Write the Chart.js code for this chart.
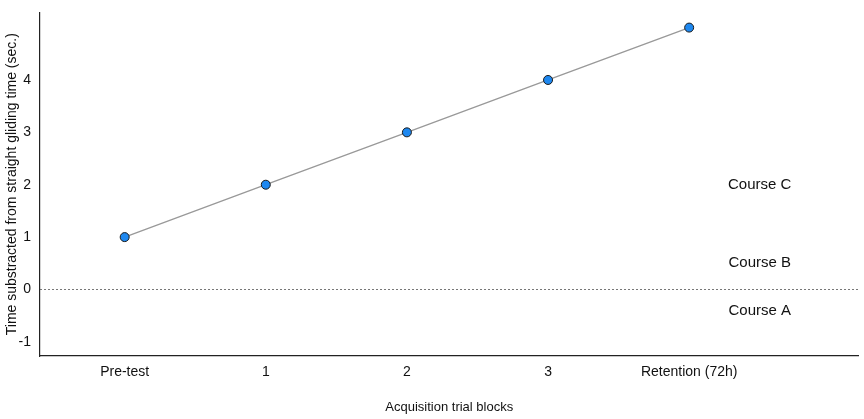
<!DOCTYPE html>
<html><head><script src="https://cdn.jsdelivr.net/npm/chart.js@4"></script>
<style>body{margin:0;background:#fff}#w{width:864px;height:419px}</style></head>
<body><div id="w"><canvas id="c"></canvas></div>
<script>
const categories=["Pre-test","1","2","3","Retention (72h)"];
const values=[1,2,3,4,5];
const courseLabels=["Course C","Course B","Course A"];
const courseY=[2,0.5,-0.4];
const courseX=4.5;
const yTicks=[-1,0,1,2,3,4];
const F='"Liberation Sans", Arial, sans-serif';
const notes={id:'notes',afterDatasetsDraw(ch){const {ctx,scales:{x,y},chartArea:a}=ch;ctx.save();
ctx.setLineDash([2,2]);ctx.strokeStyle='#555';ctx.lineWidth=0.8;const y0=y.getPixelForValue(0);
ctx.beginPath();ctx.moveTo(a.left,y0);ctx.lineTo(a.right,y0);ctx.stroke();ctx.setLineDash([]);
ctx.fillStyle='#111';ctx.font='15px '+F;ctx.textAlign='center';ctx.textBaseline='middle';
courseLabels.forEach((t,i)=>ctx.fillText(t,x.getPixelForValue(courseX),y.getPixelForValue(courseY[i])));ctx.restore();}};
new Chart(document.getElementById('c'),{type:'line',
data:{datasets:[{data:values.map((v,i)=>({x:i,y:v})),borderColor:'#999',borderWidth:1.3,
pointBackgroundColor:'#1E88F0',pointBorderColor:'#1a1a1a',pointBorderWidth:1,pointRadius:4.5}]},
options:{animation:false,responsive:true,maintainAspectRatio:false,
layout:{padding:{top:0,right:0}},
plugins:{legend:{display:false},tooltip:{enabled:false}},
scales:{
x:{type:'linear',min:-0.6,max:5.2,afterBuildTicks(s){s.ticks=categories.map((c,i)=>({value:i}));},
afterFit(s){s.height=63;},
grid:{display:false,drawTicks:true,tickLength:5,tickColor:'#222'},border:{color:'#222',width:1.2},
ticks:{color:'#111',font:{family:F,size:14},maxRotation:0,autoSkip:false,callback:(v)=>categories[v]},
title:{display:true,text:'Acquisition trial blocks',color:'#111',font:{family:F,size:13},padding:{top:6}}},
y:{min:-1.27,max:5.29,afterBuildTicks(s){s.ticks=yTicks.map(v=>({value:v}));},
afterFit(s){s.width=40;},
grid:{display:false,drawTicks:true,tickLength:5,tickColor:'#222'},border:{color:'#222',width:1.2},
ticks:{color:'#111',font:{family:F,size:14},padding:4},
title:{display:true,text:'Time substracted from straight gliding time (sec.)',color:'#111',font:{family:F,size:14},padding:{bottom:2}}}}},
plugins:[notes]});
</script></body></html>
